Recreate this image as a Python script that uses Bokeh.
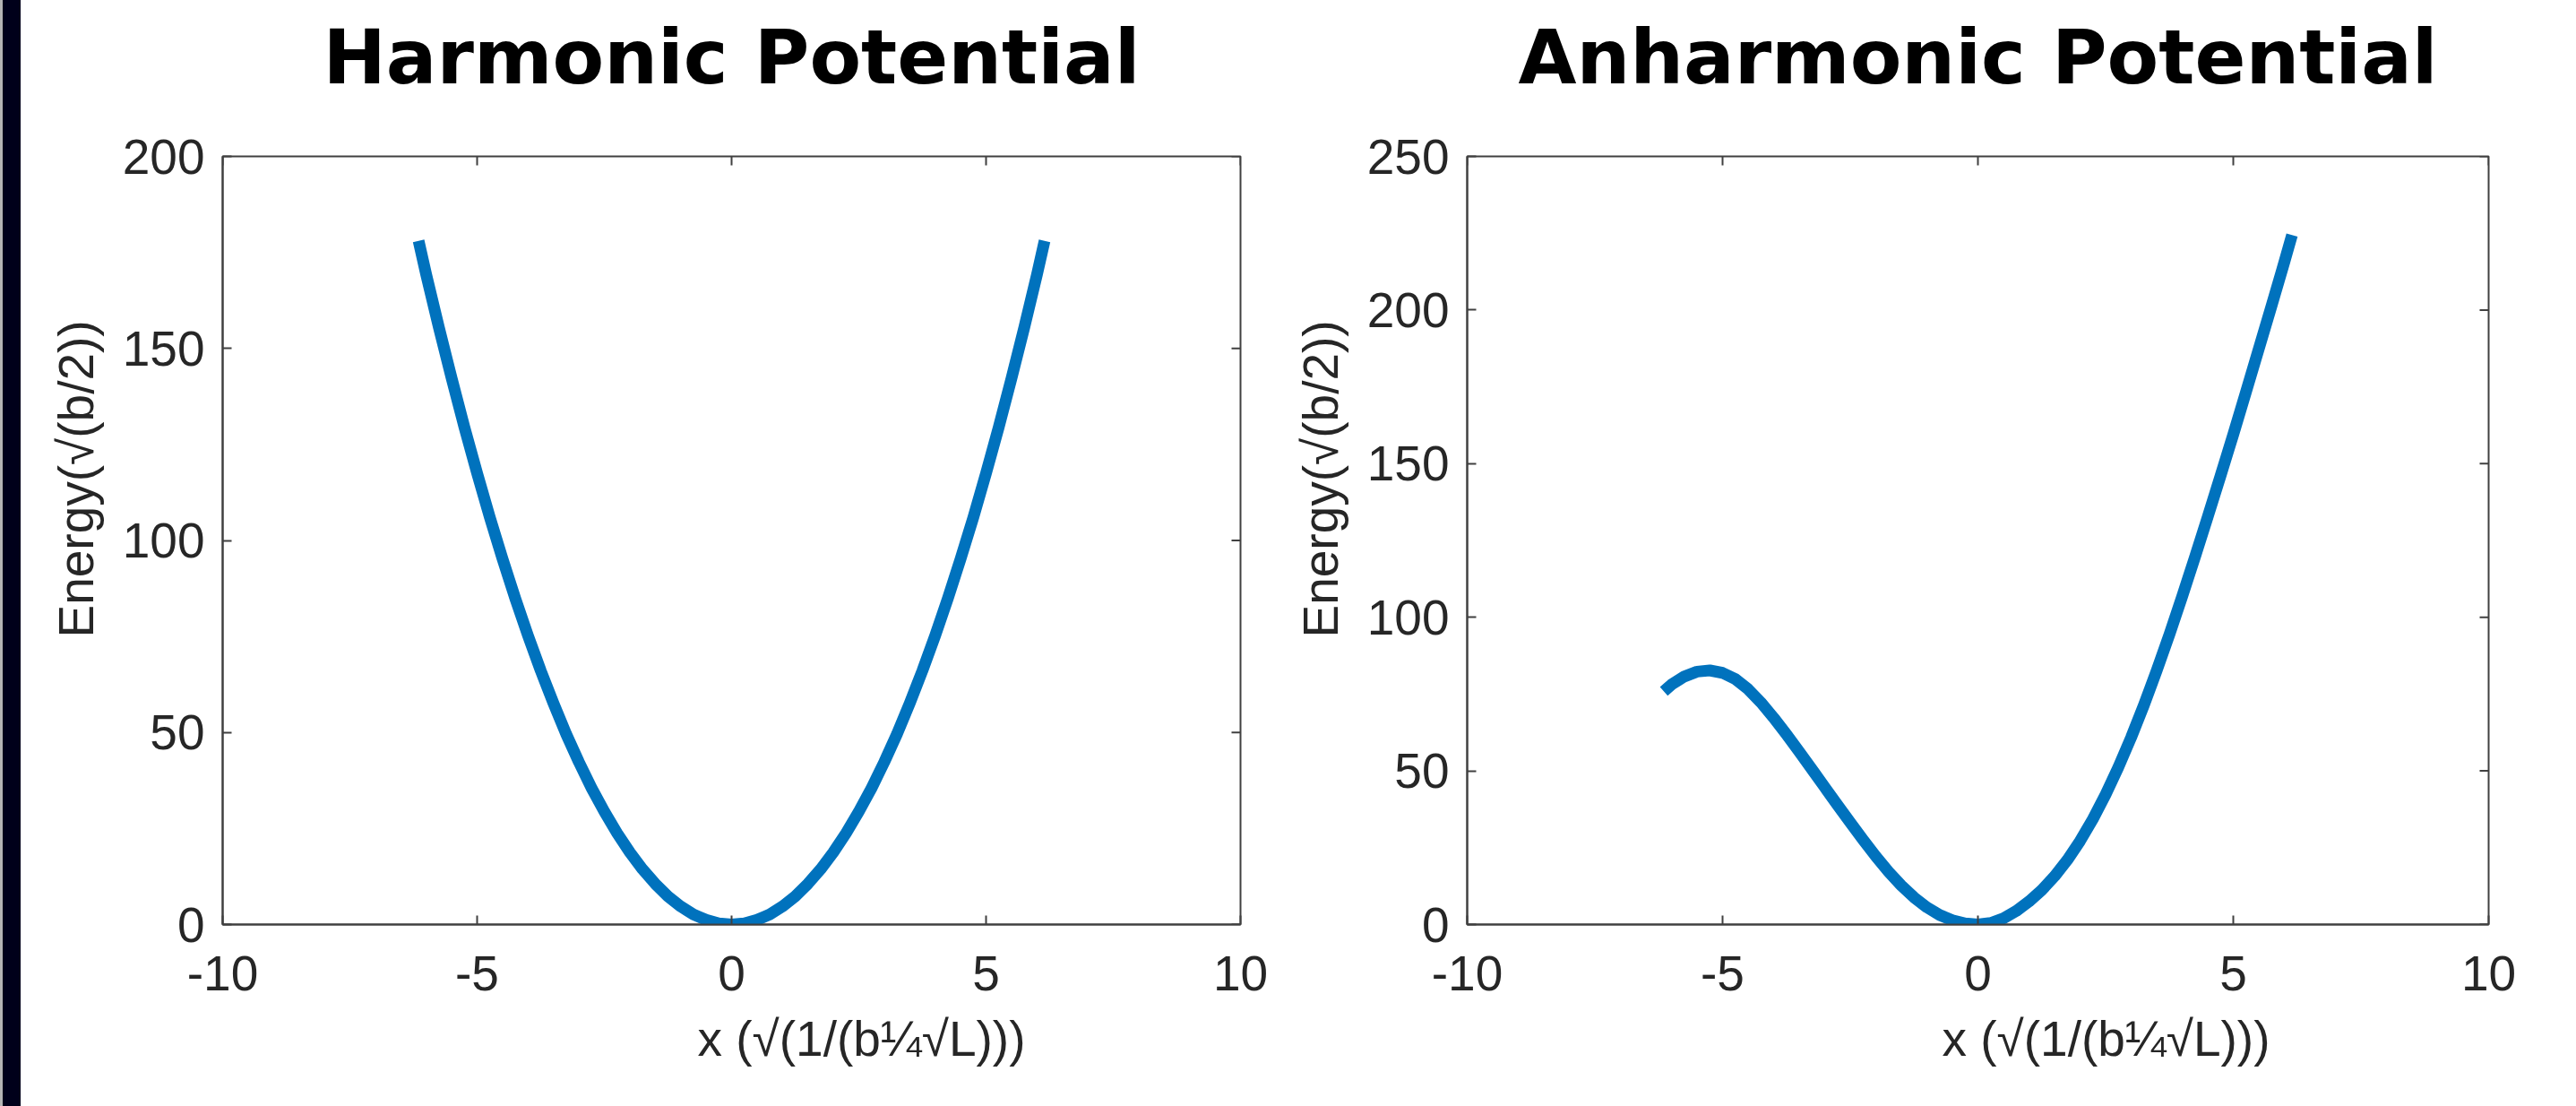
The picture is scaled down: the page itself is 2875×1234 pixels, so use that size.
import math
from bokeh.plotting import figure
from bokeh.models import Range1d, FixedTicker, Div, Title
from bokeh.layouts import row
from bokeh.embed import file_html
from bokeh.resources import INLINE

# ---------------- data ----------------
titles = ["Harmonic Potential", "Anharmonic Potential"]
x_label = "x (√(1/(b¼√L)))"
y_label = "Energy(√(b/2))"

x_ticks = [-10, -5, 0, 5, 10]
harm_y_ticks = [0, 50, 100, 150, 200]
anh_y_ticks = [0, 50, 100, 150, 200, 250]

harm_x = [-6.15, -6.0, -5.75, -5.5, -5.25, -5.0, -4.75, -4.5, -4.25, -4.0, -3.75, -3.5,
          -3.25, -3.0, -2.75, -2.5, -2.25, -2.0, -1.75, -1.5, -1.25, -1.0, -0.75, -0.5,
          -0.25, 0.0, 0.25, 0.5, 0.75, 1.0, 1.25, 1.5, 1.75, 2.0, 2.25, 2.5, 2.75, 3.0,
          3.25, 3.5, 3.75, 4.0, 4.25, 4.5, 4.75, 5.0, 5.25, 5.5, 5.75, 6.0, 6.15]
harm_y = [178.0, 169.2, 155.4, 142.2, 129.5, 117.5, 106.0, 95.2, 84.9, 75.2, 66.1, 57.6,
          49.6, 42.3, 35.5, 29.4, 23.8, 18.8, 14.4, 10.6, 7.3, 4.7, 2.6, 1.2,
          0.3, 0.0, 0.3, 1.2, 2.6, 4.7, 7.3, 10.6, 14.4, 18.8, 23.8, 29.4, 35.5, 42.3,
          49.6, 57.6, 66.1, 75.2, 84.9, 95.2, 106.0, 117.5, 129.5, 142.2, 155.4, 169.2, 178.0]

anh_x = [-6.15, -6.0, -5.75, -5.5, -5.25, -5.0, -4.75, -4.5, -4.25, -4.0, -3.75, -3.5,
         -3.25, -3.0, -2.75, -2.5, -2.25, -2.0, -1.75, -1.5, -1.25, -1.0, -0.75, -0.5,
         -0.25, 0.0, 0.25, 0.5, 0.75, 1.0, 1.25, 1.5, 1.75, 2.0, 2.25, 2.5, 2.75, 3.0,
         3.25, 3.5, 3.75, 4.0, 4.25, 4.5, 4.75, 5.0, 5.25, 5.5, 5.75, 6.0, 6.15]
anh_y = [75.9, 78.1, 80.7, 82.3, 82.7, 81.9, 79.9, 76.6, 72.3, 67.3, 61.9, 56.3,
         50.5, 44.7, 38.9, 33.2, 27.6, 22.2, 17.2, 12.7, 8.8, 5.6, 3.1, 1.4,
         0.35, 0.0, 0.5, 2.0, 4.4, 7.5, 11.2, 15.7, 21.0, 27.2, 34.3, 42.3, 51.2, 60.9,
         71.4, 82.6, 94.4, 106.8, 119.6, 132.7, 146.0, 159.5, 173.4, 187.4, 201.4, 215.6, 224.4]

# ---------------- styling ----------------
LINE_COLOR = "#0072BD"
AX_COLOR = "#262626"
FRAME_COLOR = "#404040"
FONT = "Liberation Sans"
FONT_SIZE = "55px"
TICK_LEN = 10
SHIFT_UP = 50  # figure is pulled up so the tall title slot does not push the frame down


def make_plot(title, xs, ys, y_max, y_ticks, width, left, right):
    p = figure(width=width, height=1234 + SHIFT_UP, output_backend="svg", toolbar_location=None,
               x_range=Range1d(-10, 10), y_range=Range1d(0, y_max),
               min_border_left=left, min_border_right=right,
               min_border_top=174 + SHIFT_UP, min_border_bottom=203,
               margin=(-SHIFT_UP, 0, 0, 0),
               background_fill_color="white", border_fill_color="white")
    p.grid.visible = False
    p.outline_line_color = FRAME_COLOR
    p.outline_line_width = 2

    p.title.text = title
    p.title.align = "center"
    p.title.text_font = "DejaVu Sans"
    p.title.text_font_style = "bold"
    p.title.text_font_size = "84px"
    p.title.text_color = "black"
    p.title.standoff = 124

    p.line(xs, ys, line_width=13, line_color=LINE_COLOR, line_cap="butt", line_join="round")

    for ax, ticks in ((p.xaxis[0], x_ticks), (p.yaxis[0], y_ticks)):
        ax.ticker = FixedTicker(ticks=ticks)
        ax.major_label_overrides = {t: str(t) for t in ticks}
        ax.minor_tick_line_color = None
        ax.major_tick_in = TICK_LEN
        ax.major_tick_out = 0
        ax.major_tick_line_color = FRAME_COLOR
        ax.major_tick_line_width = 2
        ax.axis_line_color = FRAME_COLOR
        ax.axis_line_width = 2
        ax.major_label_text_font = FONT
        ax.major_label_text_font_size = FONT_SIZE
        ax.major_label_text_color = AX_COLOR
    p.xaxis[0].major_label_standoff = 35
    p.yaxis[0].major_label_standoff = 20

    # axis labels as side titles, offset along the frame like the reference
    p.add_layout(Title(text=x_label, align="left", offset=530, standoff=36,
                       text_font=FONT, text_font_size=FONT_SIZE, text_font_style="normal",
                       text_color=AX_COLOR), "below")
    p.add_layout(Title(text=y_label, align="left", offset=320, standoff=36,
                       text_font=FONT, text_font_size=FONT_SIZE, text_font_style="normal",
                       text_color=AX_COLOR), "left")

    # mirrored inward ticks on the top and right edges (box on)
    p.ray(x=x_ticks, y=[y_max] * len(x_ticks), length=TICK_LEN, length_units="screen",
          angle=-math.pi / 2, line_color=FRAME_COLOR, line_width=2)
    p.ray(x=[10] * len(y_ticks), y=y_ticks, length=TICK_LEN, length_units="screen",
          angle=math.pi, line_color=FRAME_COLOR, line_width=2)
    return p


p1 = make_plot(titles[0], harm_x, harm_y, 200, harm_y_ticks, 1399, 225, 38)
p2 = make_plot(titles[1], anh_x, anh_y, 250, anh_y_ticks, 1453, 215, 98)

edge = Div(text="", width=3, height=1234, margin=0, styles={"background-color": "#b4b4b4"})
bar = Div(text="", width=20, height=1234, margin=0, styles={"background-color": "#00001a"})

layout = row(edge, bar, p1, p2, spacing=0)
open("out.html", "w").write(file_html(layout, INLINE))
